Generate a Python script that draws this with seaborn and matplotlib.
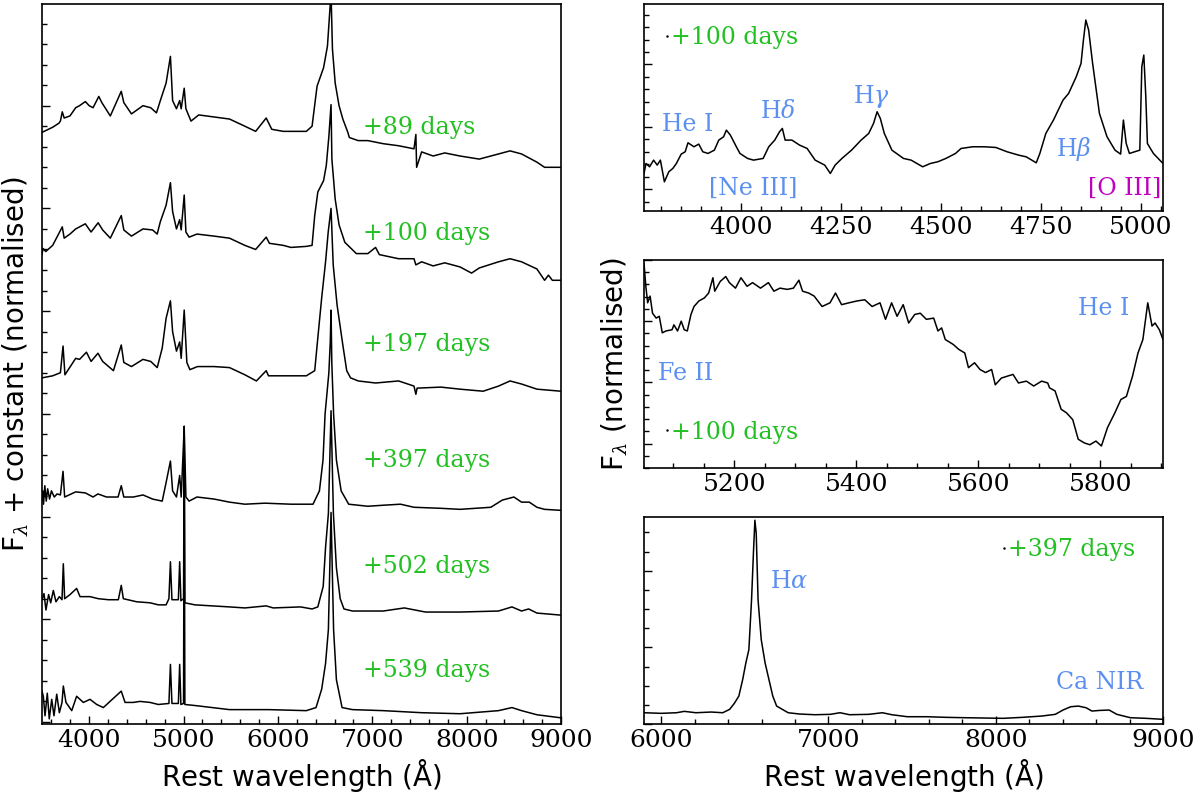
import numpy as np
import pandas as pd
import matplotlib
matplotlib.use("Agg")
import matplotlib.pyplot as plt
import seaborn as sns
from matplotlib.ticker import MultipleLocator
from matplotlib.lines import Line2D

# ---------------- data ----------------
# Left panel: spectral sequence (rest wavelength in Å, flux + constant)
w89 = [3500, 3613, 3680, 3695, 3715, 3735, 3796, 3857, 3898, 3959, 4000, 4041, 4102, 4134,
       4224, 4340, 4367, 4448, 4570, 4652, 4713, 4754, 4815, 4861, 4884, 4925, 4959, 4975,
       5007, 5025, 5079, 5161, 5324, 5487, 5650, 5764, 5876, 5935, 6057, 6301, 6362, 6415,
       6484, 6525, 6563, 6578, 6607, 6648, 6688, 6741, 6757, 6851, 6953, 7116, 7279, 7442,
       7462, 7470, 7523, 7645, 7768, 7930, 8134, 8338, 8460, 8582, 8745, 8826, 9000]
f89 = [5.74, 5.79, 5.83, 5.85, 5.94, 5.88, 5.90, 5.98, 6.00, 6.04, 6.00, 5.98, 6.09, 6.03,
       5.90, 6.14, 6.03, 5.92, 6.00, 5.98, 5.93, 6.05, 6.22, 6.48, 6.05, 5.97, 6.05, 5.97,
       6.17, 5.97, 5.85, 5.91, 5.89, 5.87, 5.80, 5.75, 5.88, 5.77, 5.75, 5.75, 5.80, 6.19,
       6.37, 6.58, 7.10, 6.55, 6.22, 6.00, 5.87, 5.74, 5.69, 5.66, 5.66, 5.63, 5.61, 5.58,
       5.72, 5.40, 5.55, 5.51, 5.54, 5.51, 5.48, 5.53, 5.56, 5.53, 5.45, 5.40, 5.40]

w100 = [3500, 3510, 3540, 3613, 3715, 3735, 3796, 3857, 3898, 3959, 4020, 4095, 4143, 4224,
        4340, 4367, 4448, 4570, 4672, 4721, 4754, 4815, 4861, 4884, 4925, 4959, 4975, 5007,
        5025, 5059, 5142, 5324, 5487, 5650, 5764, 5876, 5910, 6057, 6138, 6301, 6362, 6390,
        6423, 6484, 6513, 6540, 6563, 6572, 6607, 6648, 6709, 6831, 6953, 7035, 7075, 7279,
        7442, 7462, 7523, 7645, 7768, 7930, 8052, 8134, 8338, 8460, 8582, 8745, 8826, 8867,
        8908, 9000]
f100 = [4.55, 4.61, 4.58, 4.64, 4.82, 4.71, 4.75, 4.80, 4.82, 4.85, 4.77, 4.86, 4.79, 4.71,
        4.93, 4.79, 4.73, 4.80, 4.79, 4.75, 4.87, 5.03, 5.25, 4.97, 4.80, 4.89, 4.79, 5.13,
        4.77, 4.72, 4.75, 4.73, 4.71, 4.64, 4.60, 4.72, 4.66, 4.64, 4.62, 4.63, 4.64, 4.93,
        5.16, 5.27, 5.42, 5.70, 6.01, 5.48, 5.09, 4.84, 4.67, 4.56, 4.56, 4.62, 4.55, 4.51,
        4.51, 4.45, 4.48, 4.44, 4.47, 4.43, 4.37, 4.42, 4.48, 4.51, 4.48, 4.41, 4.30, 4.35,
        4.30, 4.30]

w197 = [3500, 3613, 3695, 3723, 3743, 3857, 3898, 3971, 4020, 4093, 4143, 4257, 4340, 4367,
        4448, 4570, 4652, 4721, 4774, 4815, 4861, 4884, 4925, 4959, 4975, 5007, 5035, 5067,
        5148, 5324, 5487, 5650, 5772, 5876, 5900, 6138, 6301, 6390, 6423, 6464, 6505, 6533,
        6563, 6586, 6627, 6688, 6729, 6770, 6851, 7035, 7279, 7442, 7462, 7475, 7727, 7930,
        8175, 8338, 8460, 8582, 8745, 9000]
f197 = [3.35, 3.37, 3.40, 3.66, 3.38, 3.54, 3.53, 3.60, 3.51, 3.59, 3.51, 3.42, 3.67, 3.50,
        3.46, 3.53, 3.51, 3.45, 3.64, 3.93, 4.10, 3.80, 3.61, 3.70, 3.54, 4.01, 3.50, 3.43,
        3.46, 3.46, 3.45, 3.38, 3.32, 3.42, 3.37, 3.37, 3.37, 3.42, 3.74, 4.13, 4.48, 4.77,
        5.00, 4.45, 4.06, 3.67, 3.42, 3.35, 3.32, 3.30, 3.32, 3.27, 3.19, 3.25, 3.26, 3.24,
        3.22, 3.27, 3.32, 3.29, 3.24, 3.22]

w397 = [3500, 3508, 3516, 3530, 3545, 3560, 3580, 3600, 3630, 3660, 3695, 3723, 3740, 3857,
        3959, 4041, 4093, 4183, 4306, 4340, 4367, 4469, 4570, 4672, 4774, 4815, 4861, 4884,
        4925, 4959, 4975, 5007, 5025, 5059, 5142, 5324, 5487, 5650, 5862, 6138, 6301, 6372,
        6440, 6478, 6500, 6540, 6555, 6563, 6571, 6590, 6620, 6670, 6750, 6953, 7116, 7299,
        7442, 7727, 7930, 8256, 8378, 8501, 8582, 8664, 8745, 8826, 9000]
f397 = [2.16, 2.25, 2.12, 2.30, 2.15, 2.27, 2.17, 2.25, 2.19, 2.22, 2.21, 2.44, 2.19, 2.24,
        2.23, 2.19, 2.22, 2.19, 2.19, 2.30, 2.19, 2.19, 2.21, 2.17, 2.15, 2.33, 2.54, 2.25,
        2.19, 2.40, 2.19, 2.87, 2.19, 2.15, 2.19, 2.17, 2.14, 2.12, 2.13, 2.12, 2.12, 2.12,
        2.25, 2.55, 3.00, 3.40, 3.70, 4.01, 3.50, 3.00, 2.55, 2.25, 2.12, 2.10, 2.11, 2.12,
        2.09, 2.08, 2.07, 2.09, 2.16, 2.19, 2.14, 2.14, 2.09, 2.07, 2.06]

w502 = [3500, 3521, 3542, 3570, 3592, 3620, 3648, 3684, 3712, 3726, 3740, 3797, 3867, 3903,
        4009, 4097, 4203, 4309, 4340, 4362, 4503, 4645, 4733, 4815, 4845, 4861, 4877, 4945,
        4959, 4972, 5000, 5007, 5014, 5120, 5487, 5650, 5876, 5950, 6240, 6362, 6423, 6480,
        6505, 6535, 6563, 6588, 6620, 6660, 6700, 6790, 7116, 7340, 7564, 7930, 8338, 8480,
        8582, 8657, 8745, 9000]
f502 = [1.19, 1.25, 1.09, 1.24, 1.16, 1.28, 1.17, 1.22, 1.19, 1.54, 1.20, 1.24, 1.30, 1.22,
        1.22, 1.20, 1.19, 1.19, 1.33, 1.20, 1.17, 1.16, 1.14, 1.14, 1.20, 1.56, 1.19, 1.19,
        1.56, 1.18, 1.20, 2.88, 1.16, 1.14, 1.12, 1.11, 1.13, 1.11, 1.12, 1.10, 1.12, 1.32,
        1.70, 2.03, 3.03, 2.03, 1.50, 1.20, 1.10, 1.08, 1.08, 1.11, 1.07, 1.07, 1.08, 1.12,
        1.08, 1.10, 1.06, 1.04]

w539 = [3500, 3514, 3532, 3556, 3577, 3603, 3627, 3656, 3684, 3712, 3726, 3754, 3815, 3867,
        3938, 4009, 4080, 4150, 4221, 4340, 4380, 4468, 4539, 4645, 4733, 4845, 4861, 4877,
        4945, 4959, 4972, 5000, 5007, 5014, 5120, 5487, 5900, 6301, 6404, 6464, 6505, 6535,
        6563, 6590, 6620, 6680, 6790, 7116, 7523, 7930, 8338, 8480, 8582, 8745, 9000]
f539 = [0.30, 0.25, 0.06, 0.28, 0.03, 0.22, 0.06, 0.27, 0.09, 0.19, 0.35, 0.19, 0.11, 0.25,
        0.19, 0.22, 0.17, 0.14, 0.20, 0.30, 0.19, 0.19, 0.20, 0.19, 0.17, 0.18, 0.56, 0.18,
        0.18, 0.56, 0.17, 0.18, 2.80, 0.17, 0.16, 0.12, 0.12, 0.11, 0.14, 0.32, 0.57, 0.90,
        2.04, 0.90, 0.41, 0.14, 0.12, 0.11, 0.09, 0.08, 0.11, 0.14, 0.11, 0.07, 0.04]

epoch_labels = ["+89 days", "+100 days", "+197 days", "+397 days", "+502 days", "+539 days"]
epoch_label_y = [5.79, 4.76, 3.67, 2.55, 1.51, 0.50]
epoch_label_x = 6900

# Top-right: blue region of +100 d spectrum
wT = [3757, 3762, 3771, 3781, 3790, 3798, 3808, 3819, 3829, 3838, 3850, 3860, 3867, 3882,
      3894, 3904, 3917, 3933, 3944, 3956, 3963, 3973, 3988, 3997, 4016, 4031, 4055, 4069,
      4084, 4096, 4103, 4110, 4127, 4146, 4165, 4185, 4209, 4223, 4235, 4252, 4276, 4300,
      4319, 4331, 4340, 4348, 4358, 4377, 4406, 4425, 4454, 4473, 4492, 4512, 4536, 4550,
      4579, 4608, 4637, 4665, 4694, 4713, 4738, 4747, 4762, 4781, 4805, 4819, 4838, 4850,
      4856, 4862, 4869, 4879, 4896, 4915, 4935, 4949, 4956, 4963, 4971, 4997, 5002, 5007,
      5012, 5016, 5031, 5055]
fT = [0.252, 0.412, 0.359, 0.466, 0.386, 0.466, 0.118, 0.279, 0.332, 0.412, 0.562, 0.600,
      0.744, 0.680, 0.723, 0.600, 0.573, 0.626, 0.787, 0.840, 0.947, 0.867, 0.680, 0.573,
      0.493, 0.466, 0.493, 0.680, 0.787, 0.921, 0.974, 0.787, 0.787, 0.707, 0.653, 0.466,
      0.386, 0.252, 0.386, 0.493, 0.626, 0.787, 0.894, 1.054, 1.242, 1.135, 0.894, 0.626,
      0.493, 0.466, 0.359, 0.412, 0.440, 0.493, 0.573, 0.653, 0.680, 0.680, 0.669, 0.600,
      0.546, 0.519, 0.423, 0.573, 0.894, 1.108, 1.429, 1.536, 1.803, 2.017, 2.392, 2.713,
      2.553, 2.017, 1.215, 0.840, 0.626, 0.562, 1.108, 0.733, 0.573, 0.626, 1.964, 2.151,
      1.482, 0.733, 0.573, 0.412]

# Middle-right: Fe II / He I region of +100 d spectrum
wM = [5052, 5055, 5058, 5062, 5066, 5072, 5077, 5082, 5088, 5098, 5101, 5107, 5113, 5118,
      5123, 5129, 5134, 5142, 5151, 5158, 5165, 5168, 5177, 5186, 5192, 5202, 5211, 5221,
      5230, 5243, 5256, 5265, 5275, 5287, 5297, 5306, 5312, 5322, 5331, 5344, 5357, 5366,
      5376, 5388, 5401, 5414, 5426, 5439, 5448, 5458, 5467, 5477, 5486, 5496, 5505, 5515,
      5527, 5534, 5540, 5546, 5559, 5568, 5578, 5584, 5594, 5603, 5612, 5622, 5628, 5638,
      5657, 5666, 5679, 5691, 5704, 5714, 5717, 5726, 5736, 5745, 5755, 5764, 5774, 5783,
      5793, 5802, 5812, 5824, 5834, 5843, 5853, 5862, 5870, 5878, 5885, 5890, 5897, 5903]
fM = [2.95, 2.57, 2.30, 2.41, 2.13, 2.05, 2.08, 1.81, 1.84, 1.86, 1.94, 1.84, 2.00, 1.86,
      1.84, 2.11, 2.24, 2.33, 2.38, 2.46, 2.71, 2.49, 2.65, 2.73, 2.63, 2.54, 2.71, 2.57,
      2.63, 2.54, 2.63, 2.49, 2.54, 2.52, 2.54, 2.67, 2.49, 2.46, 2.41, 2.24, 2.30, 2.46,
      2.27, 2.30, 2.33, 2.35, 2.24, 2.30, 2.03, 2.30, 2.08, 2.27, 1.97, 2.11, 2.13, 2.03,
      2.05, 1.84, 1.89, 1.70, 1.62, 1.54, 1.48, 1.24, 1.32, 1.21, 1.16, 1.21, 0.96, 1.07,
      1.13, 0.99, 1.02, 0.94, 1.02, 0.99, 0.91, 0.86, 0.56, 0.50, 0.39, 0.07, 0.01, -0.02,
      0.04, -0.04, 0.26, 0.50, 0.72, 0.77, 1.10, 1.48, 1.70, 2.30, 1.92, 1.97, 1.86, 1.70]

# Bottom-right: red region of +397 d spectrum
wB = [5897, 6000, 6092, 6138, 6207, 6299, 6368, 6409, 6437, 6464, 6487, 6506, 6524, 6540,
      6552, 6560, 6568, 6579, 6598, 6621, 6644, 6667, 6690, 6724, 6759, 6828, 6920, 7011,
      7069, 7126, 7241, 7322, 7379, 7471, 7586, 7701, 7816, 7931, 8046, 8161, 8276, 8356,
      8402, 8448, 8494, 8540, 8575, 8621, 8678, 8724, 8805, 8897, 9000]
fB = [0.147, 0.139, 0.147, 0.165, 0.147, 0.156, 0.147, 0.191, 0.269, 0.364, 0.580, 0.797,
      0.970, 1.619, 2.269, 2.658, 2.485, 1.619, 1.100, 0.797, 0.580, 0.364, 0.234, 0.191,
      0.147, 0.130, 0.121, 0.126, 0.147, 0.121, 0.126, 0.147, 0.121, 0.095, 0.095, 0.087,
      0.082, 0.078, 0.074, 0.087, 0.104, 0.126, 0.182, 0.225, 0.234, 0.212, 0.169, 0.177,
      0.182, 0.126, 0.082, 0.074, 0.061]

# line identifications: (label, wavelength, y, colour key)
top_ids = [("He I", 3865, 1.03, "b"), ("[Ne III]", 4029, 0.01, "b"), (r"H$\delta$", 4092, 1.24, "b"),
           (r"H$\gamma$", 4326, 1.48, "b"), (r"H$\beta$", 4831, 0.65, "b"), ("[O III]", 4958, 0.01, "m")]
mid_ids = [("Fe II", 5120, 1.15, "b"), ("He I", 5805, 2.20, "b")]
bot_ids = [(r"H$\alpha$", 6763, 1.857, "b"), ("Ca NIR", 8621, 0.546, "b")]

# ---------------- style ----------------
sns.set_style("ticks")
plt.rcParams["font.family"] = ["DejaVu Serif"]
plt.rcParams["mathtext.fontset"] = "dejavuserif"
for k in ("text.color", "axes.labelcolor", "xtick.color", "ytick.color", "axes.edgecolor"):
    plt.rcParams[k] = "black"

GREEN = "#23c023"
BLUE = "#5b8ff0"
MAG = "#bf00bf"
COLS = {"b": BLUE, "m": MAG}
LAB = dict(family="DejaVu Sans", fontsize=20, color="black")
ANN = dict(family="DejaVu Serif", fontsize=17)

fig = plt.figure(figsize=(12, 8), dpi=100)
axL = fig.add_axes([42 / 1200, 76 / 800, 519 / 1200, 720 / 800])
axT = fig.add_axes([644 / 1200, 589 / 800, 519 / 1200, 207 / 800])
axM = fig.add_axes([644 / 1200, 332 / 800, 519 / 1200, 208 / 800])
axB = fig.add_axes([644 / 1200, 76 / 800, 519 / 1200, 207 / 800])


def draw(ax, w, f):
    df = pd.DataFrame({"w": w, "f": f})
    sns.lineplot(data=df, x="w", y="f", ax=ax, color="black", lw=1.1,
                 estimator=None, sort=False, legend=False)


for w, f in [(w89, f89), (w100, f100), (w197, f197), (w397, f397), (w502, f502), (w539, f539)]:
    draw(axL, w, f)
draw(axT, wT, fT)
draw(axM, wM, fM)
draw(axB, wB, fB)

for ax in (axL, axT, axM, axB):
    ax.tick_params(which="both", direction="in", top=False, right=False,
                   labelleft=False, labelsize=18, width=1, colors="black")
    ax.tick_params(which="major", length=6)
    ax.tick_params(which="minor", length=3.5)
    for s in ax.spines.values():
        s.set_linewidth(1.2)
        s.set_color("black")
    ax.set_xlabel("")
    ax.set_ylabel("")

# left panel
axL.set_xlim(3500, 9000)
axL.set_ylim(-0.02, 6.99)
axL.xaxis.set_major_locator(MultipleLocator(1000))
axL.xaxis.set_minor_locator(MultipleLocator(200))
axL.yaxis.set_major_locator(MultipleLocator(1))
axL.yaxis.set_minor_locator(MultipleLocator(0.2))
axL.set_xlabel(r"Rest wavelength ($\mathregular{\AA}$)", **LAB)
axL.set_ylabel(r"F$_\lambda$ + constant (normalised)", **LAB)
for lab, y in zip(epoch_labels, epoch_label_y):
    axL.text(epoch_label_x, y, lab, color=GREEN, ha="left", va="center", **ANN)

# top right
axT.set_xlim(3757, 5055)
axT.set_ylim(-0.35, 2.97)
axT.xaxis.set_major_locator(MultipleLocator(250))
axT.xaxis.set_minor_locator(MultipleLocator(50))
axT.yaxis.set_major_locator(MultipleLocator(1))
axT.yaxis.set_minor_locator(MultipleLocator(0.2))

# middle right
axM.set_xlim(5052, 5903)
axM.set_ylim(-0.40, 3.0)
axM.xaxis.set_major_locator(MultipleLocator(200))
axM.xaxis.set_minor_locator(MultipleLocator(50))
axM.yaxis.set_major_locator(MultipleLocator(1))
axM.yaxis.set_minor_locator(MultipleLocator(0.2))
axM.set_ylabel(r"F$_\lambda$ (normalised)", **LAB)

# bottom right
axB.set_xlim(5897, 9000)
axB.set_ylim(0.0, 2.70)
axB.xaxis.set_major_locator(MultipleLocator(1000))
axB.xaxis.set_minor_locator(MultipleLocator(200))
axB.yaxis.set_major_locator(MultipleLocator(1))
axB.yaxis.set_minor_locator(MultipleLocator(0.25))
axB.set_xlabel(r"Rest wavelength ($\mathregular{\AA}$)", **LAB)

for ax, ids in [(axT, top_ids), (axM, mid_ids), (axB, bot_ids)]:
    for lab, x, y, c in ids:
        ax.text(x, y, lab, color=COLS[c], ha="center", va="center", **ANN)

# epoch legends in the zoom panels
for ax, lab, anchor in [(axT, "+100 days", (0.04, 0.836)),
                        (axM, "+100 days", (0.04, 0.173)),
                        (axB, "+397 days", (0.69, 0.841))]:
    h = Line2D([], [], color="black", marker=".", markersize=1.5, linestyle="None")
    ax.legend([h], [lab], loc="center left", bbox_to_anchor=anchor, frameon=False,
              handlelength=0.2, handletextpad=0.05, borderpad=0, borderaxespad=0,
              labelcolor=GREEN, prop={"family": "DejaVu Serif", "size": 17})

axL.yaxis.set_label_coords(-0.022, 0.5)
axM.yaxis.set_label_coords(-0.027, 0.5)

fig.savefig("out.png", dpi=100)
